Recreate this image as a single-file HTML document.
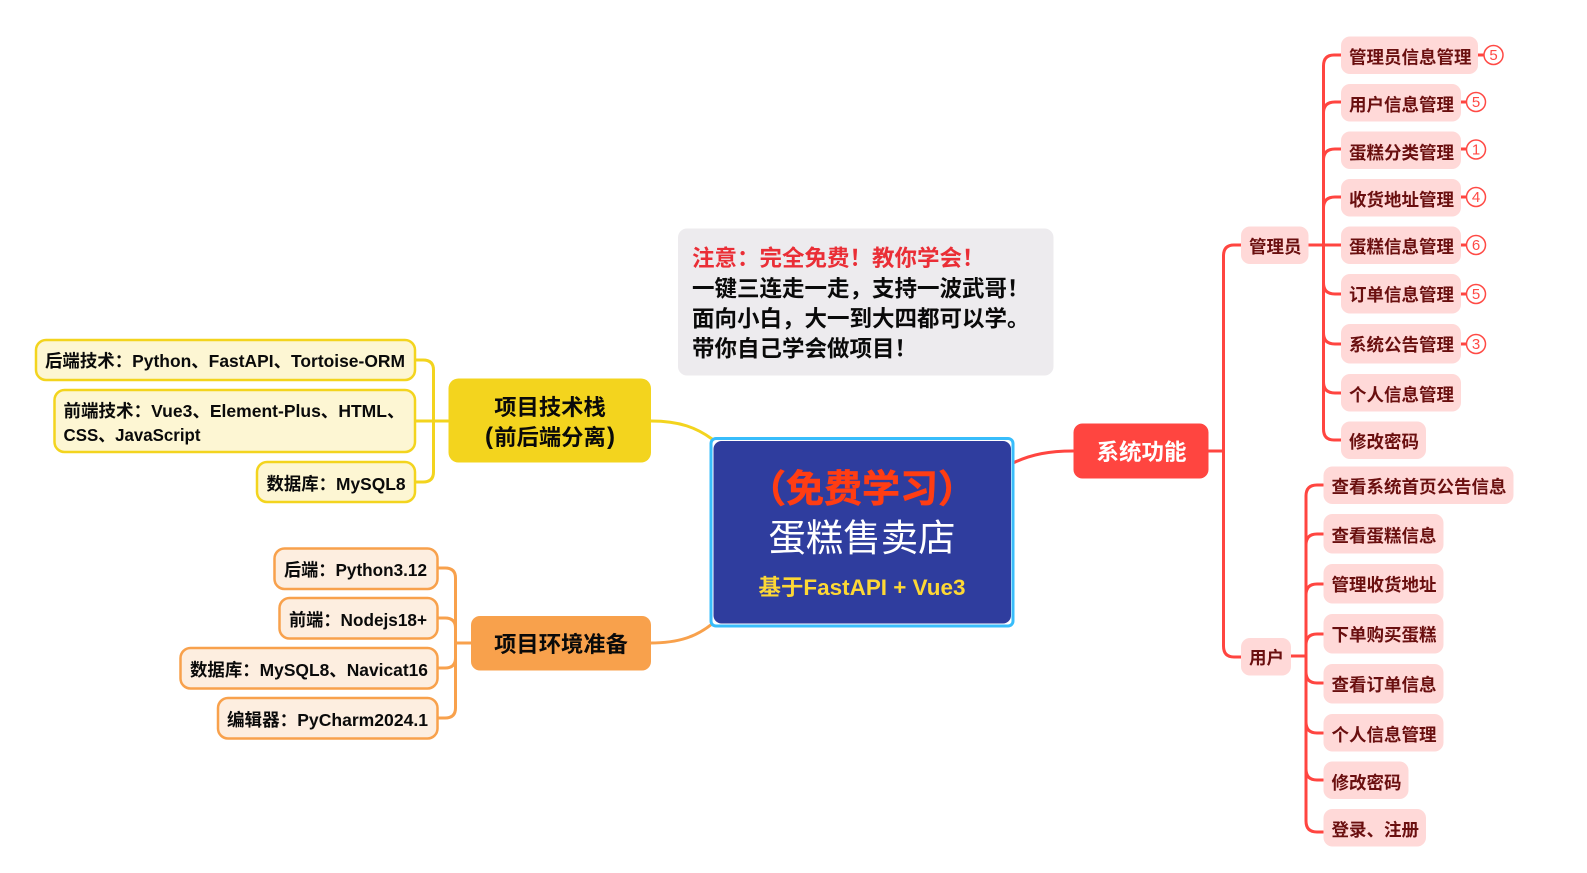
<!DOCTYPE html>
<html lang="zh">
<head>
<meta charset="utf-8">
<style>
html,body{margin:0;padding:0;background:#fff}
svg{display:block}
text{font-family:"Liberation Sans","Noto Sans CJK SC",sans-serif;font-weight:700}
.a{font-size:17.5px;fill:#6a0f0f}
.y{font-size:17.5px;fill:#0a0a0a}
.n{font-family:"Liberation Sans",sans-serif;font-size:15px;font-weight:400;fill:#ff4a45;text-anchor:middle}
.m{font-size:22.3px;fill:#0a0a0a;text-anchor:middle}
.c{font-size:22.5px;fill:#0a0a0a}
</style>
</head>
<body>
<svg width="1587" height="873" viewBox="0 0 1587 873" xmlns="http://www.w3.org/2000/svg">
<rect width="1587" height="873" fill="#fff"/>

<!-- connectors -->
<g fill="none" stroke-linecap="round">
<g stroke="#f3d41e" stroke-width="3">
<path d="M651 421C680 421 697 428 712 439"/>
<path d="M415 360H423Q433.500 360 433.500 370V472Q433.500 482 423 482H415"/>
<path d="M415 421H448"/>
</g>
<g stroke="#f8a14c" stroke-width="3">
<path d="M650 643C680 643 697 636 712 624"/>
<path d="M437 568H445Q455.500 568 455.500 578V708Q455.500 718 445 718H437"/>
<path d="M437 618H445Q455.500 618 455.500 628V658Q455.500 668 445 668H437"/>
<path d="M455.500 643H471"/>
</g>
<g stroke="#ff4540" stroke-width="3">
<path d="M1013 463C1032 454 1050 451 1073 451"/>
<path d="M1208 451H1223.500"/>
<path d="M1241 245H1234Q1223.500 245 1223.500 256V646Q1223.500 657 1234 657H1241"/>
<path d="M1308 245H1341"/>
<path d="M1341 55H1334Q1323.500 55 1323.500 66V429Q1323.500 440 1334 440H1341"/>
<path d="M1341 102H1335Q1323.500 102 1323.500 113"/>
<path d="M1341 149H1335Q1323.500 149 1323.500 160"/>
<path d="M1341 197H1335Q1323.500 197 1323.500 208"/>
<path d="M1323.500 283Q1323.500 294 1335 294H1341"/>
<path d="M1323.500 333Q1323.500 344 1335 344H1341"/>
<path d="M1323.500 382Q1323.500 393 1335 393H1341"/>
<path d="M1291 656H1306"/>
<path d="M1323 485H1317Q1306 485 1306 496V821Q1306 832 1317 832H1323"/>
<path d="M1323 534H1317Q1306 534 1306 545"/>
<path d="M1323 584H1317Q1306 584 1306 595"/>
<path d="M1323 634H1317Q1306 634 1306 645"/>
<path d="M1306 672Q1306 683 1317 683H1323"/>
<path d="M1306 722Q1306 733 1317 733H1323"/>
<path d="M1306 769Q1306 780 1317 780H1323"/>
<path d="M1478 55H1483M1461 102H1466M1461 149H1466M1461 197H1466M1461 245H1466M1461 294H1466M1461 344H1466"/>
</g>
</g>

<!-- central -->
<rect x="711" y="438.500" width="302" height="187.500" rx="5" fill="#fff" stroke="#38bdfb" stroke-width="3"/>
<rect x="713.500" y="441" width="297.500" height="182.500" rx="8" fill="#2f3d9e"/>
<text x="862" y="502" font-size="38" text-anchor="middle" fill="#ff3d13" stroke="#ff3d13" stroke-width="0.6">（免费学习）</text>
<text x="862" y="551" font-size="37.500" text-anchor="middle" fill="#fff" style="font-weight:400" textLength="187" lengthAdjust="spacingAndGlyphs">蛋糕售卖店</text>
<text x="862" y="595" font-size="22" text-anchor="middle" fill="#fdd835" textLength="207" lengthAdjust="spacingAndGlyphs">基于FastAPI + Vue3</text>

<!-- note -->
<rect x="678" y="228.500" width="375.500" height="147" rx="9" fill="#edebee"/>
<text class="c" x="692" y="266" style="fill:#ea2e36">注意：完全免费！教你学会！</text>
<text class="c" x="692" y="296.500">一键三连走一走，支持一波武哥！</text>
<text class="c" x="692" y="326.500">面向小白，大一到大四都可以学。</text>
<text class="c" x="692" y="356.500">带你自己学会做项目！</text>

<!-- yellow -->
<rect x="448.500" y="378.500" width="202.500" height="84" rx="10" fill="#f3d41e"/>
<text class="m" x="550" y="415">项目技术栈</text>
<text class="m" x="550" y="445">前后端分离</text>
<text class="m" x="489" y="444" style="font-size:24px">(</text>
<text class="m" x="611" y="444" style="font-size:24px">)</text>
<g fill="#fdf6d3" stroke="#f3d41e" stroke-width="2.500">
<rect x="36" y="340" width="379" height="40" rx="10"/>
<rect x="54.500" y="390" width="360.500" height="62" rx="10"/>
<rect x="257" y="462" width="158" height="40" rx="10"/>
</g>
<text class="y" x="45" y="367" textLength="360" lengthAdjust="spacingAndGlyphs">后端技术：Python、FastAPI、Tortoise-ORM</text>
<text class="y" x="63.500" y="417" textLength="341" lengthAdjust="spacingAndGlyphs">前端技术：Vue3、Element-Plus、HTML、</text>
<text class="y" x="63.500" y="441" textLength="137" lengthAdjust="spacingAndGlyphs">CSS、JavaScript</text>
<text class="y" x="266.500" y="490" textLength="139" lengthAdjust="spacingAndGlyphs">数据库：MySQL8</text>

<!-- orange -->
<rect x="471" y="616" width="180" height="54.500" rx="9" fill="#f8a14c"/>
<text class="m" x="561" y="652">项目环境准备</text>
<g fill="#fdeee0" stroke="#f8a14c" stroke-width="2.500">
<rect x="274.500" y="548.500" width="163" height="40.500" rx="10"/>
<rect x="279.500" y="598" width="158" height="40.500" rx="10"/>
<rect x="180.500" y="648" width="257" height="40.500" rx="10"/>
<rect x="218" y="698" width="219.500" height="40.500" rx="10"/>
</g>
<text class="y" x="284" y="576" textLength="143" lengthAdjust="spacingAndGlyphs">后端：Python3.12</text>
<text class="y" x="289" y="626" textLength="138" lengthAdjust="spacingAndGlyphs">前端：Nodejs18+</text>
<text class="y" x="190" y="676" textLength="238" lengthAdjust="spacingAndGlyphs">数据库：MySQL8、Navicat16</text>
<text class="y" x="227" y="726" textLength="201" lengthAdjust="spacingAndGlyphs">编辑器：PyCharm2024.1</text>

<!-- red root -->
<rect x="1073.500" y="423.500" width="135" height="55" rx="9" fill="#ff4540"/>
<text x="1141.500" y="460" font-size="22.500" text-anchor="middle" fill="#fff">系统功能</text>

<!-- admin -->
<g fill="#ffd9d8">
<rect x="1241" y="226.500" width="67.500" height="37.500" rx="9"/>
<rect x="1341" y="36.500" width="137" height="37.500" rx="9"/>
<rect x="1341" y="84" width="120" height="37.500" rx="9"/>
<rect x="1341" y="131.500" width="120" height="37.500" rx="9"/>
<rect x="1341" y="179" width="120" height="37.500" rx="9"/>
<rect x="1341" y="226.500" width="120" height="37.500" rx="9"/>
<rect x="1341" y="274" width="120" height="39.500" rx="9"/>
<rect x="1341" y="324" width="120" height="39.500" rx="9"/>
<rect x="1341" y="374" width="120" height="37.500" rx="9"/>
<rect x="1341" y="421.500" width="85" height="37.500" rx="9"/>
<rect x="1241" y="638" width="50" height="37.500" rx="9"/>
<rect x="1323.500" y="466.500" width="190" height="37.500" rx="9"/>
<rect x="1323.500" y="514" width="120" height="39.500" rx="9"/>
<rect x="1323.500" y="564" width="120" height="39.500" rx="9"/>
<rect x="1323.500" y="614" width="120" height="39.500" rx="9"/>
<rect x="1323.500" y="664" width="120" height="39.500" rx="9"/>
<rect x="1323.500" y="714" width="120" height="37.500" rx="9"/>
<rect x="1323.500" y="761.500" width="85" height="37.500" rx="9"/>
<rect x="1323.500" y="809" width="102.500" height="37.500" rx="9"/>
</g>
<text class="a" x="1249" y="253">管理员</text>
<text class="a" x="1349" y="63.500">管理员信息管理</text>
<text class="a" x="1349" y="111">用户信息管理</text>
<text class="a" x="1349" y="159">蛋糕分类管理</text>
<text class="a" x="1349" y="206">收货地址管理</text>
<text class="a" x="1349" y="253">蛋糕信息管理</text>
<text class="a" x="1349" y="301">订单信息管理</text>
<text class="a" x="1349" y="351">系统公告管理</text>
<text class="a" x="1349" y="401">个人信息管理</text>
<text class="a" x="1349" y="448">修改密码</text>
<text class="a" x="1249" y="664">用户</text>
<text class="a" x="1331.500" y="493">查看系统首页公告信息</text>
<text class="a" x="1331.500" y="542">查看蛋糕信息</text>
<text class="a" x="1331.500" y="591">管理收货地址</text>
<text class="a" x="1331.500" y="641">下单购买蛋糕</text>
<text class="a" x="1331.500" y="691">查看订单信息</text>
<text class="a" x="1331.500" y="741">个人信息管理</text>
<text class="a" x="1331.500" y="789">修改密码</text>
<text class="a" x="1331.500" y="836">登录、注册</text>

<!-- badges -->
<g fill="#fff" stroke="#ff4a45" stroke-width="1.500">
<circle cx="1493.500" cy="55" r="9.500"/>
<circle cx="1476" cy="102" r="9.500"/>
<circle cx="1476" cy="149.500" r="9.500"/>
<circle cx="1476" cy="197" r="9.500"/>
<circle cx="1476" cy="245" r="9.500"/>
<circle cx="1476" cy="294" r="9.500"/>
<circle cx="1476" cy="344" r="9.500"/>
</g>
<text class="n" x="1493.500" y="60">5</text>
<text class="n" x="1476" y="107">5</text>
<text class="n" x="1476" y="154.500">1</text>
<text class="n" x="1476" y="202">4</text>
<text class="n" x="1476" y="250">6</text>
<text class="n" x="1476" y="299">5</text>
<text class="n" x="1476" y="349">3</text>
</svg>
</body>
</html>
